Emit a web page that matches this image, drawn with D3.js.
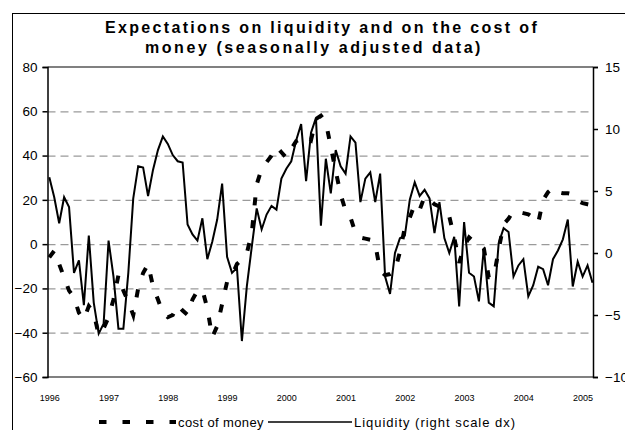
<!DOCTYPE html>
<html>
<head>
<meta charset="utf-8">
<script src="https://cdn.jsdelivr.net/npm/d3@7"></script>
<style>
    body { margin: 0; background: #fff; }
    svg { display: block; font-family: Arial, "Liberation Sans", sans-serif; }
</style>
</head>
<body>
<div id="chart-area"></div>
<script>
// monthly data, Jan 1996 - Mar 2005
let startYear = 1996;
let yearLabels = [1996, 1997, 1998, 1999, 2000, 2001, 2002, 2003, 2004, 2005];

// cost of money (left scale)
let costOfMoney = [
    -6, -3, -9, -15, -21, -24, -31, -34, -28, -31, -41, -38,
    -33, -25, -14, -21, -26, -32, -20, -13, -9, -19, -25, -31,
    -33, -32, -27.5, -30, -32, -25, -21, -20.5, -29, -42, -37, -27,
    -17, -14, -9, -7, -4, 5, 27, 34, 37, 40, 44, 41.5,
    39, 43, 46.5, 47.5, 49, 47, 56.5, 58, 55, 44, 33, 22.5,
    15, 12, 5, 3, 2.5, 2, 0, -12, -14, -13.5, -12, -3.5,
    7.5, 12, 18, 15.5, 21.5, 20, 18, 17, 16, 12.5, 3, -8.5,
    -1, 3, 1, 0, -2, -15, -15, -2.5, 9, 11.5, 15, 14.5,
    14, 13.5, 12, 9.5, 20, 23.5, 25.5, 23.5, 23, 23, 22.5, 19.5,
    18.5, 18, 17.5
];

// liquidity (right scale)
let liquidity = [
    6.1, 4.5, 2.4, 4.5, 3.7, -1.6, -0.6, -4.2, 1.4, -4.0, -6.5, -5.7,
    1.0, -1.9, -6.1, -6.1, -1.6, 4.4, 7.0, 6.9, 4.6, 6.7, 8.3, 9.4,
    8.8, 7.9, 7.4, 7.3, 2.3, 1.5, 1.0, 2.8, -0.5, 0.9, 2.7, 5.6,
    -0.3, -1.6, -1.2, -7.1, -2.7, 0.5, 3.6, 1.9, 3.1, 3.8, 3.5, 6.0,
    6.8, 7.4, 9.1, 10.4, 5.8, 9.7, 10.9, 2.2, 7.6, 4.8, 8.3, 7.0,
    6.4, 9.4, 8.9, 4.1, 6.0, 6.5, 4.1, 6.4, -1.9, -3.3, 0.0, 1.2,
    1.4, 4.3, 5.7, 4.6, 5.1, 4.4, 1.6, 4.1, 1.2, 0.0, 1.3, -4.3,
    2.5, -1.6, -1.9, -3.9, 0.4, -4.0, -4.3, 0.8, 2.0, 1.7, -1.9, -1.0,
    -0.5, -3.5, -2.6, -1.1, -1.3, -2.6, -0.5, 0.2, 1.1, 2.7, -2.7, -0.7,
    -1.9, -1.0, -2.4
];

let leftTicks = [-60, -40, -20, 0, 20, 40, 60, 80];
let rightTicks = [-10, -5, 0, 5, 10, 15];
let titleLines = ["Expectations on liquidity and on the cost of", "money (seasonally adjusted data)"];
let legendNames = ["cost of money", "Liquidity (right scale dx)"];

// spread the letters of a text until it reaches a given width
function fitText(sel, target) {
    let n = sel.text().length;
    let w = sel.node().getComputedTextLength();
    sel.attr("letter-spacing", ((target - w) / n).toFixed(2) + "px");
}

class ExpectationsVis {
    constructor(_parentElement) {
        this.parentElement = _parentElement;
        this.initVis();
    }

    initVis() {
        let vis = this;

        vis.plot = { left: 47.5, right: 593, top: 67, bottom: 377 };

        vis.svg = d3.select("#" + vis.parentElement).append("svg")
            .attr("width", 625)
            .attr("height", 430);

        // outer frame (runs off the page right and bottom)
        vis.svg.append("rect")
            .attr("x", 12.5).attr("y", 13.5)
            .attr("width", 700).attr("height", 500)
            .attr("fill", "none").attr("stroke", "#000").attr("stroke-width", 1);

        // title
        titleLines.forEach((t, i) => {
            let txt = vis.svg.append("text")
                .attr("x", i == 0 ? 322 : 314).attr("y", 33 + i * 20)
                .attr("text-anchor", "middle")
                .attr("font-weight", "bold")
                .attr("font-size", 16)
                .text(t);
            fitText(txt, i == 0 ? 434 : 338);
        });

        // scales
        vis.x = d3.scaleLinear()
            .domain([0, liquidity.length - 1])
            .range([49.3, 592.5]);
        vis.yLeft = d3.scaleLinear()
            .domain([-60, 80])
            .range([vis.plot.bottom, vis.plot.top]);
        vis.yRight = d3.scaleLinear()
            .domain([-10, 15])
            .range([vis.plot.bottom, vis.plot.top]);

        // gridlines
        vis.svg.append("g")
            .attr("class", "grid")
            .attr("transform", "translate(" + vis.plot.left + ",0)")
            .call(d3.axisLeft(vis.yLeft)
                .tickValues(leftTicks.filter(d => d > -60 && d < 80))
                .tickSize(-(vis.plot.right - vis.plot.left))
                .tickFormat(""))
            .call(g => g.select(".domain").remove())
            .selectAll("line")
            .attr("stroke", "#9a9a9a")
            .attr("stroke-width", 1.3)
            .attr("stroke-dasharray", "8,5");

        // plot frame top / bottom
        [vis.plot.top, vis.plot.bottom].forEach(y => {
            vis.svg.append("line")
                .attr("x1", vis.plot.left).attr("x2", vis.plot.right)
                .attr("y1", y).attr("y2", y)
                .attr("stroke", "#808080").attr("stroke-width", 2);
        });

        // x axis (years)
        vis.svg.append("g")
            .attr("class", "x-axis axis")
            .attr("transform", "translate(0," + vis.plot.bottom + ")")
            .call(d3.axisBottom(vis.x)
                .tickValues(yearLabels.map(y => (y - startYear) * 12))
                .tickSize(0)
                .tickPadding(18)
                .tickFormat(d => startYear + d / 12))
            .call(g => g.select(".domain").remove())
            .selectAll("text")
            .attr("font-size", 9)
            .attr("fill", "#000");

        // left axis
        vis.svg.append("g")
            .attr("class", "y-axis axis")
            .attr("transform", "translate(" + vis.plot.left + ",0)")
            .call(d3.axisLeft(vis.yLeft).tickValues(leftTicks).tickSize(5).tickPadding(5))
            .call(g => g.selectAll("text").attr("font-size", 13.5).attr("fill", "#000"))
            .call(g => g.selectAll("line, path").attr("stroke", "#000").attr("stroke-width", 1.5));

        // right axis
        vis.svg.append("g")
            .attr("class", "y-axis-right axis")
            .attr("transform", "translate(" + vis.plot.right + ",0)")
            .call(d3.axisRight(vis.yRight).tickValues(rightTicks).tickSize(5).tickPadding(7))
            .call(g => g.selectAll("text").attr("font-size", 13.5).attr("fill", "#000"))
            .call(g => g.selectAll("line, path").attr("stroke", "#000").attr("stroke-width", 1.5));

        vis.updateVis();
    }

    updateVis() {
        let vis = this;

        let costLine = d3.line()
            .x((d, i) => vis.x(i))
            .y(d => vis.yLeft(d));

        let liqLine = d3.line()
            .x((d, i) => vis.x(i))
            .y(d => vis.yRight(d));

        vis.svg.append("path")
            .datum(costOfMoney)
            .attr("class", "cost-line")
            .attr("fill", "none")
            .attr("stroke", "#000")
            .attr("stroke-width", 4)
            .attr("stroke-dasharray", "8,15")
            .attr("d", costLine);

        vis.svg.append("path")
            .datum(liquidity)
            .attr("class", "liquidity-line")
            .attr("fill", "none")
            .attr("stroke", "#000")
            .attr("stroke-width", 2)
            .attr("stroke-linejoin", "miter")
            .attr("d", liqLine);

        // legend
        let legend = vis.svg.append("g").attr("class", "legend");
        legend.append("line")
            .attr("x1", 99).attr("x2", 176).attr("y1", 422).attr("y2", 422)
            .attr("stroke", "#000").attr("stroke-width", 4)
            .attr("stroke-dasharray", "7.5,16");
        let t1 = legend.append("text")
            .attr("x", 178).attr("y", 427)
            .attr("font-size", 13)
            .text(legendNames[0]);
        fitText(t1, 86);

        legend.append("line")
            .attr("x1", 268).attr("x2", 352).attr("y1", 422).attr("y2", 422)
            .attr("stroke", "#000").attr("stroke-width", 1.5);
        let t2 = legend.append("text")
            .attr("x", 354).attr("y", 427)
            .attr("font-size", 13)
            .text(legendNames[1]);
        fitText(t2, 162);
    }
}

let expectationsVis = new ExpectationsVis("chart-area");
</script>
</body>
</html>
